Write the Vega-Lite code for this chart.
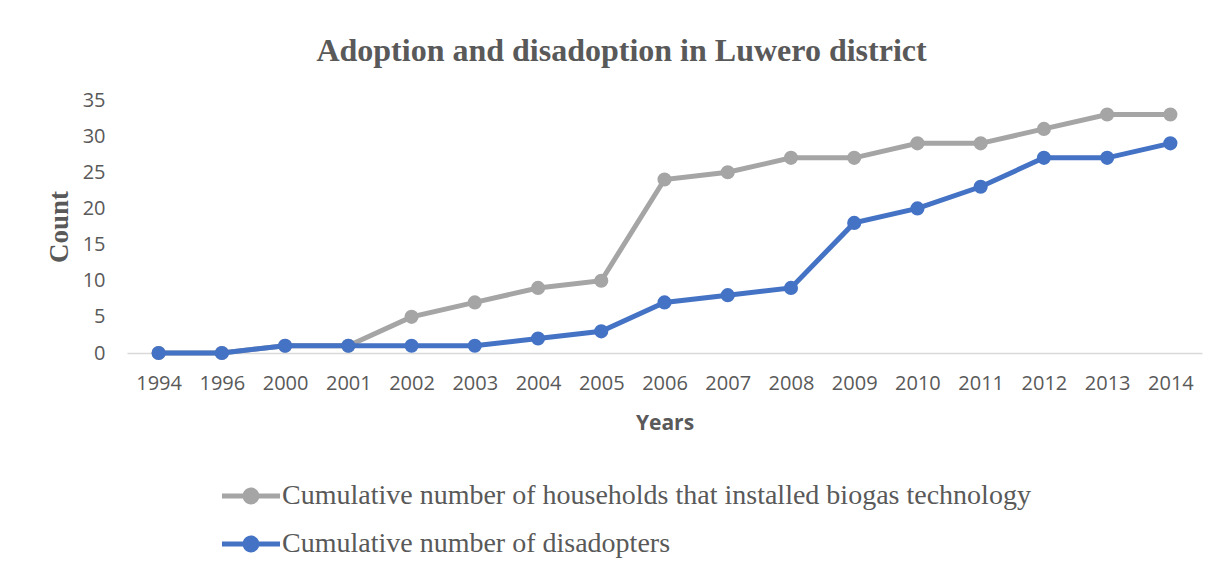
{
  "$schema": "https://vega.github.io/schema/vega-lite/v6.json",
  "autosize": "none",
  "width": 1075,
  "height": 253,
  "padding": {"left": 127, "top": 100, "right": 20, "bottom": 219},
  "background": "white",
  "title": {
    "text": "Adoption and disadoption in Luwero district",
    "font": "Liberation Serif",
    "fontSize": 32,
    "fontWeight": "bold",
    "color": "#595959",
    "anchor": "middle",
    "dx": -43,
    "offset": 22
  },
  "config": {"view": {"stroke": null}},
  "data": {
    "values": [
      {"year": "1994", "series": "Cumulative number of households that installed biogas technology", "count": 0},
      {"year": "1996", "series": "Cumulative number of households that installed biogas technology", "count": 0},
      {"year": "2000", "series": "Cumulative number of households that installed biogas technology", "count": 1},
      {"year": "2001", "series": "Cumulative number of households that installed biogas technology", "count": 1},
      {"year": "2002", "series": "Cumulative number of households that installed biogas technology", "count": 5},
      {"year": "2003", "series": "Cumulative number of households that installed biogas technology", "count": 7},
      {"year": "2004", "series": "Cumulative number of households that installed biogas technology", "count": 9},
      {"year": "2005", "series": "Cumulative number of households that installed biogas technology", "count": 10},
      {"year": "2006", "series": "Cumulative number of households that installed biogas technology", "count": 24},
      {"year": "2007", "series": "Cumulative number of households that installed biogas technology", "count": 25},
      {"year": "2008", "series": "Cumulative number of households that installed biogas technology", "count": 27},
      {"year": "2009", "series": "Cumulative number of households that installed biogas technology", "count": 27},
      {"year": "2010", "series": "Cumulative number of households that installed biogas technology", "count": 29},
      {"year": "2011", "series": "Cumulative number of households that installed biogas technology", "count": 29},
      {"year": "2012", "series": "Cumulative number of households that installed biogas technology", "count": 31},
      {"year": "2013", "series": "Cumulative number of households that installed biogas technology", "count": 33},
      {"year": "2014", "series": "Cumulative number of households that installed biogas technology", "count": 33},
      {"year": "1994", "series": "Cumulative number of disadopters", "count": 0},
      {"year": "1996", "series": "Cumulative number of disadopters", "count": 0},
      {"year": "2000", "series": "Cumulative number of disadopters", "count": 1},
      {"year": "2001", "series": "Cumulative number of disadopters", "count": 1},
      {"year": "2002", "series": "Cumulative number of disadopters", "count": 1},
      {"year": "2003", "series": "Cumulative number of disadopters", "count": 1},
      {"year": "2004", "series": "Cumulative number of disadopters", "count": 2},
      {"year": "2005", "series": "Cumulative number of disadopters", "count": 3},
      {"year": "2006", "series": "Cumulative number of disadopters", "count": 7},
      {"year": "2007", "series": "Cumulative number of disadopters", "count": 8},
      {"year": "2008", "series": "Cumulative number of disadopters", "count": 9},
      {"year": "2009", "series": "Cumulative number of disadopters", "count": 18},
      {"year": "2010", "series": "Cumulative number of disadopters", "count": 20},
      {"year": "2011", "series": "Cumulative number of disadopters", "count": 23},
      {"year": "2012", "series": "Cumulative number of disadopters", "count": 27},
      {"year": "2013", "series": "Cumulative number of disadopters", "count": 27},
      {"year": "2014", "series": "Cumulative number of disadopters", "count": 29}
    ]
  },
  "encoding": {
    "x": {
      "field": "year",
      "type": "ordinal",
      "sort": null,
      "scale": {"type": "point", "padding": 0.5},
      "axis": {
        "title": "Years",
        "titleFont": "Open Sans",
        "titleFontSize": 21,
        "titleFontWeight": "bold",
        "titleColor": "#595959",
        "titleY": 70,
        "titleBaseline": "middle",
        "labelAngle": 0,
        "labelFont": "Open Sans",
        "labelFontSize": 20,
        "labelColor": "#595959",
        "labelPadding": 20,
        "ticks": false,
        "domainColor": "#D9D9D9",
        "domainWidth": 1.5,
        "grid": false
      }
    },
    "y": {
      "field": "count",
      "type": "quantitative",
      "scale": {"domain": [0, 35], "nice": false},
      "axis": {
        "title": "Count",
        "titleFont": "Liberation Serif",
        "titleFontSize": 27,
        "titleFontWeight": "bold",
        "titleColor": "#595959",
        "titleAngle": -90,
        "titleX": -68,
        "titleY": 126.5,
        "titleAlign": "center",
        "titleBaseline": "middle",
        "values": [0, 5, 10, 15, 20, 25, 30, 35],
        "labelFont": "Open Sans",
        "labelFontSize": 20,
        "labelColor": "#595959",
        "labelPadding": 22,
        "ticks": false,
        "domain": false,
        "grid": false
      }
    },
    "color": {
      "field": "series",
      "type": "nominal",
      "scale": {
        "domain": ["Cumulative number of households that installed biogas technology", "Cumulative number of disadopters"],
        "range": ["#A5A5A5", "#4472C4"]
      },
      "legend": {
        "title": null,
        "orient": "none",
        "legendX": 95,
        "legendY": 367,
        "direction": "vertical",
        "labelFont": "Liberation Serif",
        "labelFontSize": 28,
        "labelColor": "#595959",
        "labelLimit": 1000,
        "labelOffset": 2,
        "rowPadding": 5,
        "symbolType": "M-1,-0.09H1V0.09H-1Z M0.29,0 A0.29,0.29 0 1,1 -0.29,0 A0.29,0.29 0 1,1 0.29,0Z",
        "symbolSize": 3364,
        "symbolStrokeWidth": 0,
        "encode": {
          "symbols": {
            "update": {
              "fill": {"field": "value", "scale": "color"},
              "stroke": {"value": "transparent"},
              "opacity": {"value": 1}
            }
          }
        }
      }
    }
  },
  "layer": [
    {
      "transform": [{"filter": "datum.series === 'Cumulative number of households that installed biogas technology'"}],
      "mark": {"type": "line", "strokeWidth": 5, "point": {"filled": true, "size": 200, "opacity": 1}}
    },
    {
      "transform": [{"filter": "datum.series === 'Cumulative number of disadopters'"}],
      "mark": {"type": "line", "strokeWidth": 5, "point": {"filled": true, "size": 200, "opacity": 1}}
    }
  ]
}
